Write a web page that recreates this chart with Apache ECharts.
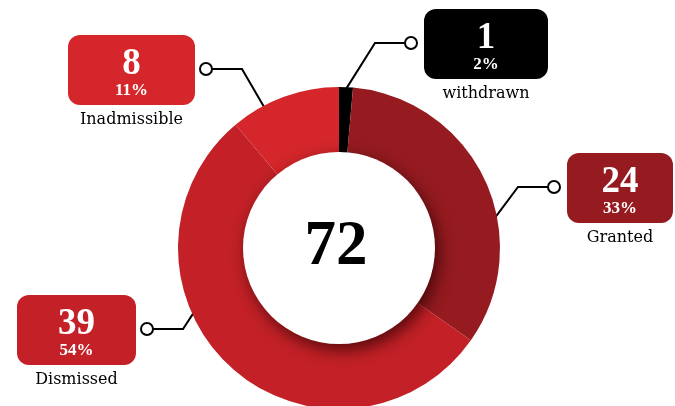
<!DOCTYPE html>
<html>
<head>
<meta charset="utf-8">
<script src="https://cdn.jsdelivr.net/npm/echarts@6.0.0/dist/echarts.min.js"></script>
<style>
  html, body { margin: 0; padding: 0; background: #fff; }
  #main { width: 675px; height: 406px; }
</style>
</head>
<body>
<div id="main"></div>
<script>
var names = ["withdrawn", "Granted", "Dismissed", "Inadmissible"];
var values = [1, 24, 39, 8];
var colors = ["#000000", "#951b20", "#c32127", "#d4262b"];

// where each label box sits, which side the leader leaves from, and where it touches the ring (deg clockwise from top)
var boxes = [
  { x: 424, y: 9, w: 124, side: "l", angle: 2.5 },
  { x: 567, y: 153, w: 106, side: "l", angle: 79 },
  { x: 17, y: 295, w: 119, side: "r", angle: 246 },
  { x: 68, y: 35, w: 127, side: "r", angle: 332 }
];

var center = [339, 248];
var outerR = 161, innerR = 90, holeR = 96;
var BOX_H = 70;

var total = values.reduce(function (s, v) { return s + v; }, 0);

function dotPos(b) {
  var cx = b.side === "l" ? b.x - 13 : b.x + b.w + 11;
  return [cx, b.y + 34];
}

var ringData = names.map(function (n, i) {
  return {
    name: n,
    value: values[i],
    itemStyle: { color: colors[i] },
    label: { backgroundColor: colors[i], width: boxes[i].w }
  };
});

var nameData = names.map(function (n, i) {
  return { name: n, value: values[i] };
});

var chart = echarts.init(document.getElementById("main"));

var option = {
  animation: false,
  series: [
    {
      type: "pie",
      center: center,
      radius: [innerR, outerR],
      startAngle: 90,
      clockwise: true,
      percentPrecision: 0,
      avoidLabelOverlap: false,
      silent: true,
      emphasis: { disabled: true },
      label: {
        show: true,
        position: "outside",
        padding: [11, 0, 6, 0],
        borderRadius: 12,
        align: "center",
        formatter: function (p) {
          return "{n|" + p.value + "}\n{p|" + p.percent + "%}";
        },
        rich: {
          n: {
            fontFamily: "Liberation Serif",
            fontWeight: "bold",
            fontSize: 37,
            lineHeight: 37,
            color: "#fff",
            align: "center"
          },
          p: {
            fontFamily: "Liberation Serif",
            fontWeight: "bold",
            fontSize: 17,
            lineHeight: 16,
            color: "#fff",
            align: "center"
          }
        }
      },
      labelLine: {
        show: true,
        smooth: false,
        lineStyle: { color: "#000", width: 2 }
      },
      labelLayout: function (p) {
        var b = boxes[p.dataIndex];
        var a = b.angle * Math.PI / 180;
        var r = outerR - 2;
        var ax = center[0] + r * Math.sin(a);
        var ay = center[1] - r * Math.cos(a);
        var d = dotPos(b);
        var ex = b.side === "l" ? d[0] - 36 : d[0] + 36;
        return {
          x: b.x + b.w / 2,
          y: b.y,
          align: "center",
          verticalAlign: "top",
          labelLinePoints: [[ax, ay], [ex, d[1]], d]
        };
      },
      data: ringData
    },
    {
      // category names under the boxes
      type: "pie",
      center: center,
      radius: [innerR, outerR],
      startAngle: 90,
      silent: true,
      emphasis: { disabled: true },
      itemStyle: { color: "rgba(0,0,0,0)" },
      label: {
        show: true,
        position: "outside",
        formatter: "{b}",
        fontFamily: "DejaVu Serif",
        fontSize: 16,
        color: "#000"
      },
      labelLine: { show: false },
      labelLayout: function (p) {
        var b = boxes[p.dataIndex];
        return {
          x: b.x + b.w / 2,
          y: b.y + BOX_H + 15,
          align: "center",
          verticalAlign: "middle"
        };
      },
      data: nameData
    },
    {
      // white hole with the total
      type: "pie",
      center: center,
      radius: [0, holeR],
      silent: true,
      z: 5,
      emphasis: { disabled: true },
      label: {
        show: true,
        position: "center",
        formatter: String(total),
        fontFamily: "Liberation Serif",
        fontWeight: "bold",
        fontSize: 63,
        color: "#000",
        padding: [0, 6, 0, 0]
      },
      labelLine: { show: false },
      data: [{
        name: "total",
        value: total,
        itemStyle: {
          color: "#fff",
          shadowBlur: 16,
          shadowColor: "rgba(40,0,0,0.7)",
          shadowOffsetX: 4,
          shadowOffsetY: 6
        }
      }]
    }
  ],
  graphic: boxes.map(function (b) {
    var d = dotPos(b);
    return {
      type: "circle",
      z: 100,
      shape: { cx: d[0], cy: d[1], r: 6 },
      style: { fill: "#fff", stroke: "#000", lineWidth: 2 }
    };
  })
};

chart.setOption(option);
</script>
</body>
</html>
